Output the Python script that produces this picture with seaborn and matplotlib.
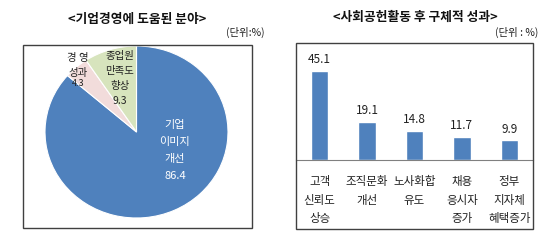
import matplotlib
matplotlib.use("Agg")
import matplotlib.pyplot as plt
import seaborn as sns
import pandas as pd
from matplotlib.patches import Rectangle

sns.set_theme(style="white")
plt.rcParams['font.family'] = ['Noto Sans CJK KR', 'DejaVu Sans']

# Pie data
pie_labels = ["기업\n이미지\n개선", "경 영\n성과", "종업원\n만족도\n향상"]
pie_values = [86.4, 4.3, 9.3]
pie_colors = ["#4F81BD", "#F2DCDB", "#D7E4BD"]

# Bar data
bar_categories = ["고객\n신뢰도\n상승", "조직문화\n개선", "노사화합\n유도", "채용\n응시자\n증가", "정부\n지자체\n혜택증가"]
bar_values = [45.1, 19.1, 14.8, 11.7, 9.9]

W, H = 550, 240
fig = plt.figure(figsize=(5.5, 2.4), dpi=100)
fig.patch.set_facecolor("white")

def px(x, y, w, h):
    return [x / W, 1 - (y + h) / H, w / W, h / H]

# frames
for (x0, y0, x1, y1) in [(23, 45, 252, 228), (296, 43, 533, 229)]:
    fig.patches.append(Rectangle((x0 / W, 1 - y1 / H), (x1 - x0) / W, (y1 - y0) / H,
                                 transform=fig.transFigure, fill=False,
                                 edgecolor="#404040", linewidth=1.0))

# titles
fig.text(137 / W, 1 - 19 / H, "<기업경영에 도움된 분야>", ha="center", va="center",
         fontsize=9.2, fontweight="bold", color="#111111")
fig.text(265 / W, 1 - 32 / H, "(단위:%)", ha="right", va="center", fontsize=7.5, color="#222222")
fig.text(415 / W, 1 - 17 / H, "<사회공헌활동 후 구체적 성과>", ha="center", va="center",
         fontsize=9.2, fontweight="bold", color="#111111")
fig.text(538 / W, 1 - 32 / H, "(단위 : %)", ha="right", va="center", fontsize=7.5, color="#222222")

# pie
axp = fig.add_axes(px(45, 46, 183, 172))
wedges, _ = axp.pie(pie_values, colors=pie_colors, startangle=90, counterclock=False,
                    wedgeprops=dict(linewidth=0.8, edgecolor="white"))
axp.set_aspect("auto")
axp.set_xlim(-1, 1)
axp.set_ylim(-1, 1)
axp.text(0.42, -0.215, pie_labels[0] + "\n" + f"{pie_values[0]}", ha="center", va="center",
         color="white", fontsize=8, linespacing=1.9)
axp.text(-0.64, 0.77, pie_labels[1], ha="center", va="center", color="#222222",
         fontsize=7.5, linespacing=1.6)
axp.text(-0.64, 0.56, f"{pie_values[1]}", ha="center", va="center", color="#222222", fontsize=6.5)
axp.text(-0.18, 0.62, pie_labels[2] + "\n" + f"{pie_values[2]}", ha="center", va="center",
         color="#222222", fontsize=7.5, linespacing=1.6)

# bars
axb = fig.add_axes(px(296, 160 - 98.7, 237, 98.7))
df = pd.DataFrame({"cat": bar_categories, "val": bar_values})
sns.barplot(data=df, x="cat", y="val", ax=axb, color="#4F81BD", width=0.37, saturation=1)
axb.set_ylim(0, 50)
axb.set_xlim(-0.5, 4.5)
for s in ["top", "right", "left"]:
    axb.spines[s].set_visible(False)
axb.spines["bottom"].set_color("#808080")
axb.spines["bottom"].set_linewidth(0.8)
axb.set_yticks([])
axb.set_xlabel("")
axb.set_ylabel("")
axb.tick_params(axis="x", length=0, pad=11)
axb.set_xticks(range(len(bar_categories)))
axb.set_xticklabels(bar_categories, fontsize=8.3, color="#222222", linespacing=1.55, va="top")
for i, v in enumerate(bar_values):
    axb.text(i, v + 2.5, f"{v}", ha="center", va="bottom", fontsize=8.5, color="#222222")
axb.patch.set_alpha(0)

fig.savefig("out.png", dpi=100, facecolor="white")
